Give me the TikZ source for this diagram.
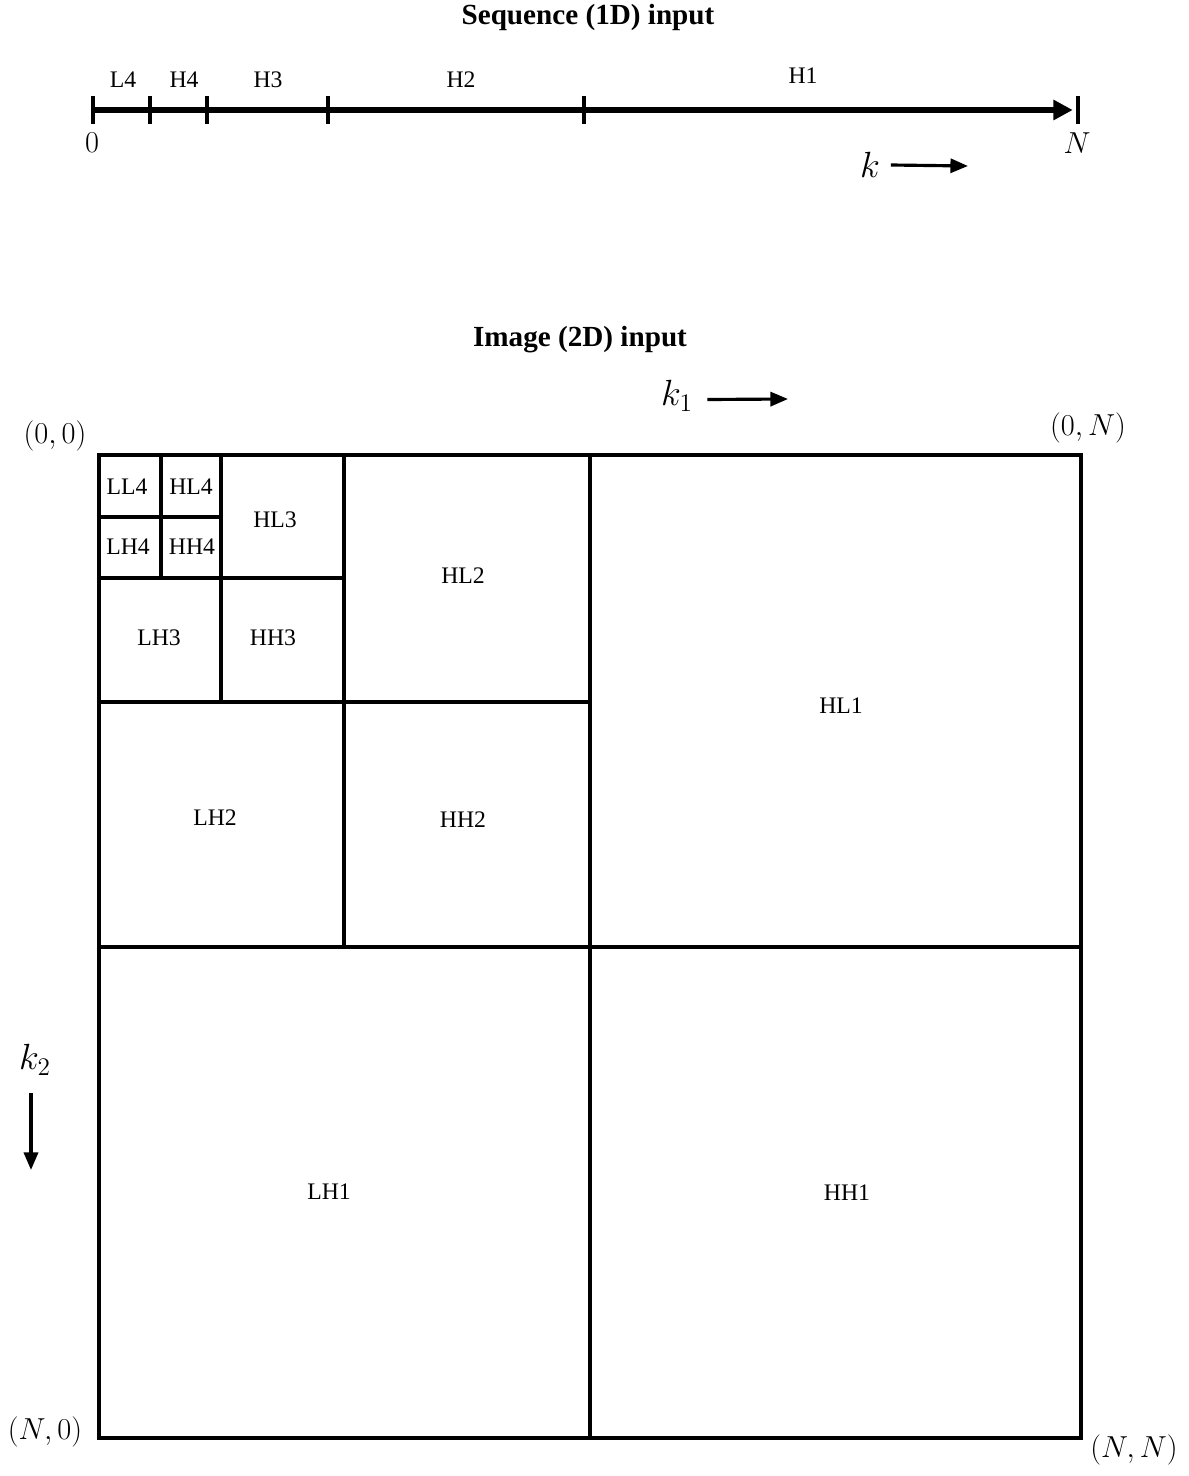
\documentclass[tikz,border=0pt]{standalone}
\usepackage{fontspec}
\setmainfont{Liberation Serif}
\usetikzlibrary{arrows.meta,positioning}
\tikzset{
  ttl/.style={font=\bfseries\fontsize{16.6}{20}\selectfont,inner sep=0pt},
  band/.style={font=\fontsize{13.5}{16}\selectfont,inner sep=0pt},
  mlab/.style={font=\fontsize{16}{19}\selectfont,inner sep=0pt},
  corner/.style={font=\fontsize{19}{22}\selectfont,inner sep=0pt},
  dirlab/.style={font=\fontsize{22}{26}\selectfont,inner sep=0pt},
  axis/.style={line width=3.8pt,-{Triangle[length=11pt,width=11pt]}},
  tickln/.style={line width=2.3pt},
  dirarr/.style={line width=1.8pt,-{Triangle[length=10pt,width=8pt]}},
  cell/.style={line width=1.8pt},
  frame/.style={line width=2.4pt}
}

\begin{document}
\begin{tikzpicture}[x=0.02cm,y=-0.02cm]
\useasboundingbox (0,0) rectangle (1188,1476);

% 1D sequence
\node[ttl] (seqttl) at (588,17) {Sequence (1D) input};
\foreach \x/\n in {93/t0,150/t1,207/t2,328/t3,584/t4,1078/tN}
  \coordinate (\n) at (\x,110);
\draw[axis] (t0) -- ([xshift=-3pt]tN);
\foreach \n in {t0,t1,t2,t3,t4,tN}
  \draw[tickln] ([yshift=8pt]\n) -- ([yshift=-8pt]\n);
\node[band] (l4) at (123,80) {L4};
\node[band] (h4) at (184,80) {H4};
\node[band] (h3) at (268,80) {H3};
\node[band] (h2) at (461,80) {H2};
\node[band] (h1) at (803,76) {H1};
\node[mlab] (zero) at (92,143) {$0$};
\node[mlab] (ends) at (1077,143) {$N$};
\node[dirlab] (k) at (870,165) {$k$};
\coordinate (kend) at (968,166);
\draw[dirarr] ([xshift=6pt]k.east) -- (kend);

% 2D image
\node[ttl] (imgttl) at (580,340) {Image (2D) input};
\node[dirlab] (ka) at (677,396) {$k_1$};
\coordinate (kaend) at (788,399);
\draw[dirarr] ([xshift=8pt,yshift=-2pt]ka.east) -- (kaend);
\node[dirlab] (kb) at (35,1060) {$k_2$};
\coordinate (kbtop) at (31,1093);
\coordinate (kbend) at (31,1170);
\draw[dirarr] (kbtop) -- (kbend);

\node[corner] (c00) at (55,436) {$(0,0)$};
\node[corner] (c0N) at (1088,428) {$(0,N)$};
\node[corner] (cN0) at (45,1432) {$(N,0)$};
\node[corner] (cNN) at (1134,1450) {$(N,N)$};

% subbands
\draw[cell] (99,455) rectangle (1081,1438);
\draw[cell] (590,455) -- (590,1438);
\draw[cell] (99,947) -- (1081,947);
\draw[frame] (99,455) rectangle (590,947);
\draw[frame] (99,455) -- (99,1438) -- (590,1438);
\draw[cell] (344,455) -- (344,947);
\draw[cell] (99,702) -- (590,702);
\draw[cell] (221,455) -- (221,702);
\draw[cell] (99,578) -- (344,578);
\draw[cell] (161,455) -- (161,578);
\draw[cell] (99,517) -- (221,517);

\node[band] (ll4) at (127,487) {LL4};
\node[band] (hl4) at (191,487) {HL4};
\node[band] (lh4) at (128,547) {LH4};
\node[band] (hh4) at (192,547) {HH4};
\node[band] (hl3) at (275,520) {HL3};
\node[band] (lh3) at (159,638) {LH3};
\node[band] (hh3) at (273,638) {HH3};
\node[band] (hl2) at (463,576) {HL2};
\node[band] (lh2) at (215,818) {LH2};
\node[band] (hh2) at (463,820) {HH2};
\node[band] (hl1) at (841,706) {HL1};
\node[band] (lh1) at (329,1192) {LH1};
\node[band] (hh1) at (847,1193) {HH1};
\end{tikzpicture}
\end{document}
